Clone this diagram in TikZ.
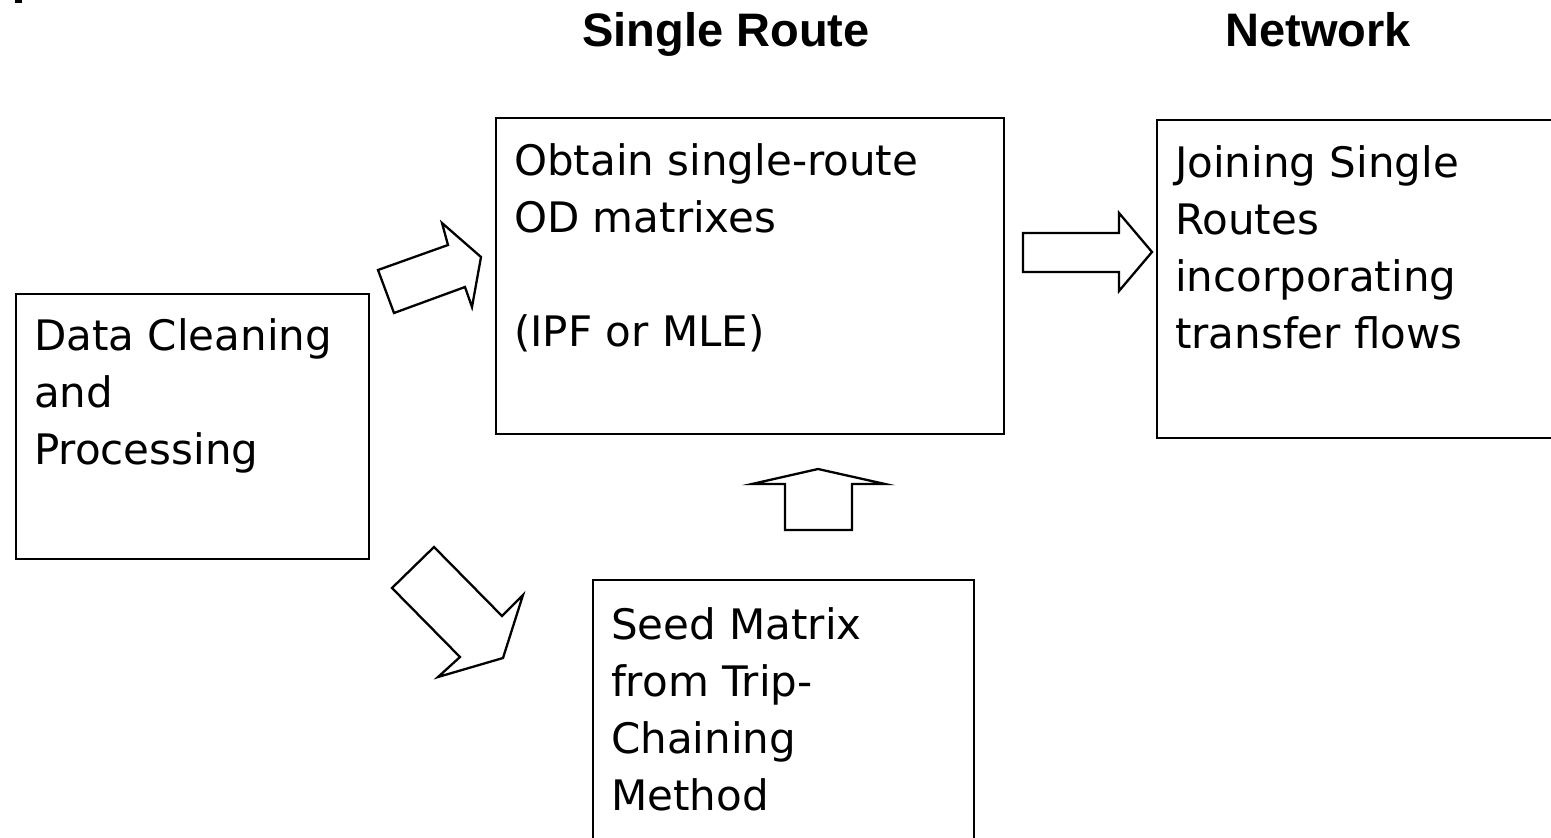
\documentclass[tikz,border=0pt]{standalone}
\usepackage{fontspec}
\setmainfont{DejaVu Sans}
\newfontfamily\headfont{Liberation Sans}
\usetikzlibrary{positioning}

\begin{document}
\begin{tikzpicture}[
    x=1pt, y=-1pt,
    box/.style={rectangle, draw, line width=2.3pt, anchor=north west, inner sep=0pt},
    boxtext/.style={inner sep=0pt, align=left, font=\fontsize{42}{57}\selectfont},
    head/.style={anchor=base, inner sep=0pt, font=\headfont\bfseries\fontsize{47}{50}\selectfont},
    blockarrow/.style={draw, line width=2.3pt, line join=miter, fill=white}
]
\clip (0,0) rectangle (1551,838);
\fill (15,0) rectangle (22,3);

% Headings
\node[head] (hroute) at (726,46) {Single Route};
\node[head] (hnet) at (1318,46) {Network};

% Boxes
\node[box, minimum width=353pt, minimum height=265pt] (clean) at (15,293) {};
\node[box, minimum width=508pt, minimum height=316pt] (obtain) at (495,117) {};
\node[box, minimum width=500pt, minimum height=318pt] (join) at (1156,119) {};
\node[box, minimum width=381pt, minimum height=300pt] (seed) at (592,579) {};

% Texts
\node[boxtext, below right=25pt and 19pt of clean.north west] (cleantext) {Data Cleaning\\and\\Processing};
\node[boxtext, below right=26pt and 19pt of obtain.north west] (obtaintext) {Obtain single-route\\OD matrixes\\[57pt](IPF or MLE)};
\node[boxtext, below right=26pt and 19pt of join.north west] (jointext) {Joining Single\\Routes\\incorporating\\transfer flows};
\node[boxtext, below right=28pt and 19pt of seed.north west] (seedtext) {Seed Matrix\\from Trip-\\Chaining\\Method};

% Block arrows
\draw[blockarrow] (378,270) -- (448,245) -- (442,223) -- (481,257) -- (472,307) -- (465,287) -- (394,313) -- cycle;
\draw[blockarrow] (434,547) -- (502,616) -- (523,595) -- (503,658) -- (438,677) -- (460,657) -- (392,588) -- cycle;
\draw[blockarrow] (785,530) -- (785,484) -- (752,484) -- (818,469) -- (885,484) -- (852,484) -- (852,530) -- cycle;
\draw[blockarrow] (1023,233) -- (1119,233) -- (1119,213) -- (1152,252) -- (1119,291) -- (1119,272) -- (1023,272) -- cycle;
\end{tikzpicture}
\end{document}
